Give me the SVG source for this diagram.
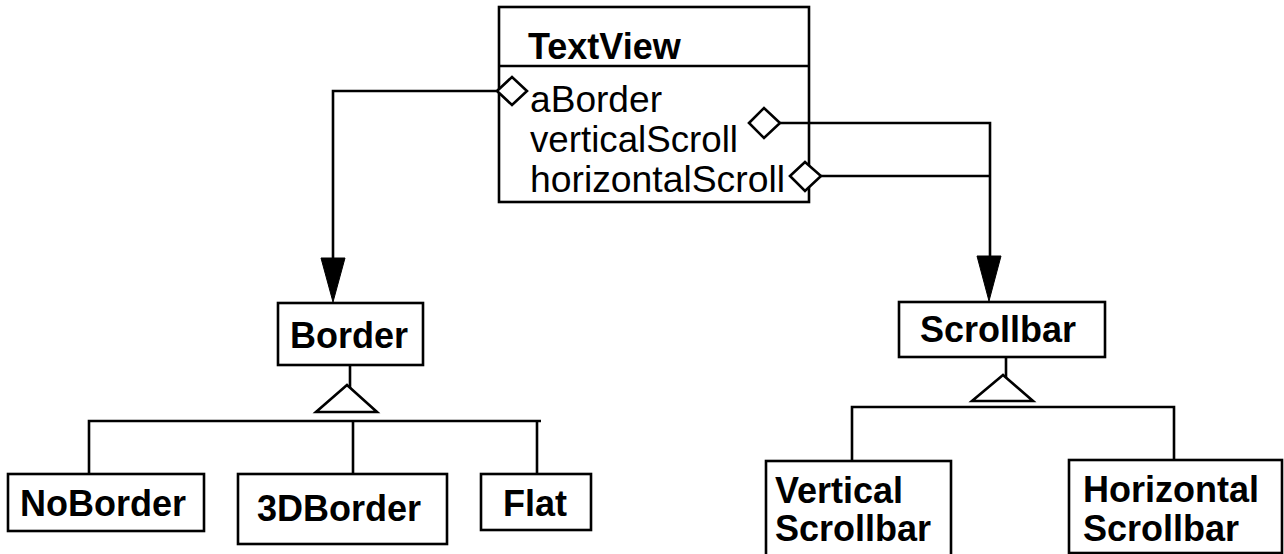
<svg xmlns="http://www.w3.org/2000/svg" width="1284" height="554" viewBox="0 0 1284 554">
<style>
.box{fill:#fff;stroke:#000;stroke-width:2.6}
.ln{fill:none;stroke:#000;stroke-width:2.6}
.dia{fill:#fff;stroke:#000;stroke-width:2.6}
.arr{fill:#000;stroke:#000;stroke-width:1}
.tri{fill:#fff;stroke:#000;stroke-width:2.6}
.b{font-family:"Liberation Sans",Arial,Helvetica,sans-serif;font-weight:bold;font-size:36px;fill:#000}
.r{font-family:"Liberation Sans",Arial,Helvetica,sans-serif;font-size:36px;fill:#000}
</style>
<rect width="1284" height="554" fill="#fff"/>
<g id="TextView">
  <rect class="box" x="499" y="7" width="310" height="195"/>
  <line class="ln" x1="499" y1="66" x2="809" y2="66"/>
  <text class="b" x="528" y="59">TextView</text>
  <text class="r" x="530" y="112" textLength="132" lengthAdjust="spacingAndGlyphs">aBorder</text>
  <text class="r" x="530" y="152" textLength="208" lengthAdjust="spacingAndGlyphs">verticalScroll</text>
  <text class="r" x="530" y="192" textLength="255" lengthAdjust="spacingAndGlyphs">horizontalScroll</text>
  <polygon class="dia" points="497,91 512,77 527,91 512,105"/>
  <polygon class="dia" points="749,123 764,108 780,123 764,138"/>
  <polygon class="dia" points="790,176 805,162 821,176 805,191"/>
</g>
<g id="Border">
  <rect class="box" x="278" y="303" width="145" height="62"/>
  <text class="b" x="290" y="348">Border</text>
</g>
<g id="NoBorder">
  <rect class="box" x="8" y="474" width="196" height="57"/>
  <text class="b" x="20" y="516">NoBorder</text>
</g>
<g id="ThreeDBorder">
  <rect class="box" x="238" y="474" width="209" height="70"/>
  <text class="b" x="257" y="521">3DBorder</text>
</g>
<g id="Flat">
  <rect class="box" x="481" y="474" width="110" height="56"/>
  <text class="b" x="503" y="516">Flat</text>
</g>
<g id="Scrollbar">
  <rect class="box" x="899" y="302" width="206" height="55"/>
  <text class="b" x="920" y="342">Scrollbar</text>
</g>
<g id="VerticalScrollbar">
  <rect class="box" x="766" y="461" width="185" height="100"/>
  <text class="b" x="775" y="503">Vertical</text>
  <text class="b" x="775" y="541">Scrollbar</text>
</g>
<g id="HorizontalScrollbar">
  <rect class="box" x="1069" y="460" width="213" height="93"/>
  <text class="b" x="1083" y="502">Horizontal</text>
  <text class="b" x="1083" y="541">Scrollbar</text>
</g>
<g id="connectors">
  <polyline class="ln" points="497,91 333,91 333,260"/>
  <polygon class="arr" points="321,258 345,258 333,302"/>
  <polyline class="ln" points="780,123 990,123 990,258"/>
  <line class="ln" x1="821" y1="176" x2="990" y2="176"/>
  <polygon class="arr" points="977,256 1001,256 989,301"/>
  <line class="ln" x1="350" y1="366" x2="350" y2="388"/>
  <polygon class="tri" points="347,385 316,412 377,412"/>
  <polyline class="ln" points="89,473 89,421 541,421"/>
  <line class="ln" x1="353" y1="421" x2="353" y2="473"/>
  <line class="ln" x1="537" y1="421" x2="537" y2="473"/>
  <line class="ln" x1="1006" y1="358" x2="1006" y2="379"/>
  <polygon class="tri" points="1003,375 972,401 1033,401"/>
  <polyline class="ln" points="852,460 852,407 1174,407 1174,459"/>
</g>
</svg>
